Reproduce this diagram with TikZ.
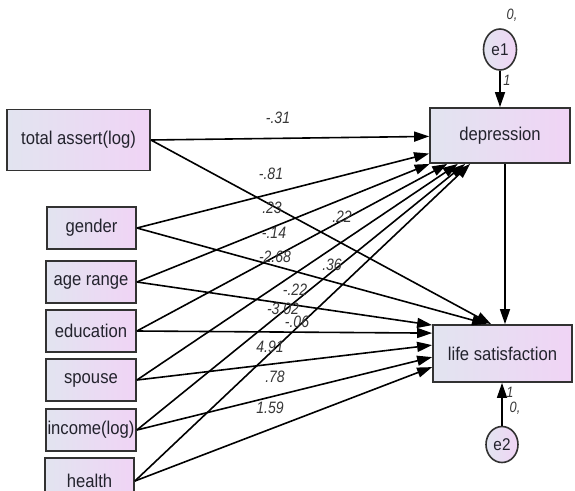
\documentclass[tikz,border=0pt]{standalone}
\usepackage{fontspec}
\setmainfont{Liberation Sans}
\newfontfamily\boxfont[FakeStretch=0.9]{Liberation Sans}
\newfontfamily\coeffont[FakeStretch=0.85]{Liberation Sans}
\usetikzlibrary{arrows.meta,calc,shapes.geometric}
\definecolor{boxL}{RGB}{226,228,240}
\definecolor{boxR}{RGB}{240,212,245}
\definecolor{boxtext}{RGB}{35,35,45}
\definecolor{coeftext}{RGB}{55,55,55}
\definecolor{edge}{RGB}{50,50,50}
\begin{document}
\begin{tikzpicture}[x=1pt,y=-1pt,
  var/.style={rectangle, draw=edge, line width=1.8pt, left color=boxL, right color=boxR,
    font=\boxfont\fontsize{18.5}{18.5}\selectfont, text=boxtext, inner sep=0pt},
  errv/.style={ellipse, draw=edge, line width=1.6pt, left color=boxL, right color=boxR,
    font=\boxfont\fontsize{17}{17}\selectfont, text=boxtext, inner sep=0pt},
  reg/.style={line width=1.6pt, -{Triangle[length=15pt,width=10pt]}},
  coef/.style={font=\coeffont\itshape\fontsize{16.5}{16.5}\selectfont, text=coeftext, inner sep=0pt},
  small/.style={font=\coeffont\itshape\fontsize{15}{15}\selectfont, text=coeftext, inner sep=0pt}]
\useasboundingbox (0,0) rectangle (575,490);

% observed variables
\node[var, minimum width=143pt, minimum height=61pt] (ta) at (78.5,140) {total assert(log)};
\node[var, minimum width=89pt, minimum height=42pt] (gender) at (91.5,228) {gender};
\node[var, minimum width=90pt, minimum height=42pt] (age) at (91,282) {age range};
\node[var, minimum width=90pt, minimum height=42pt] (edu) at (91,331) {education};
\node[var, minimum width=90pt, minimum height=42pt] (spouse) at (91,380) {spouse};
\node[var, minimum width=90pt, minimum height=42pt] (income) at (91,430) {income(log)};
\node[var, minimum width=89pt, minimum height=46pt] (health) at (89.5,481) {health};

\node[var, minimum width=140pt, minimum height=55pt] (dep) at (500,135.5) {depression};
\node[var, minimum width=139pt, minimum height=57pt] (ls) at (502.5,353.5) {life satisfaction};

% error terms
\node[errv, minimum width=33pt, minimum height=41pt] (e1) at (500,49.5) {e1};
\node[errv, minimum width=32pt, minimum height=36pt] (e2) at (502,444.5) {e2};

% arrows to depression
\draw[reg] (ta.east) -- (dep);
\draw[reg] (gender.east) -- (dep);
\draw[reg] (age.east) -- (dep);
\draw[reg] (edu.east) -- (dep);
\draw[reg] (spouse.east) -- (dep);
\draw[reg] (income.east) -- (dep);
\draw[reg] (health.east) -- (dep);

% arrows to life satisfaction
\coordinate (lsTA) at ($(ls.north west)+(59,0)$);
\coordinate (lsGE) at ($(ls.north west)+(55,0)$);
\coordinate (lsAG) at ($(ls.north west)+(0,1)$);
\coordinate (lsED) at ($(ls.north west)+(0,9)$);
\coordinate (lsSP) at ($(ls.north west)+(0,21)$);
\coordinate (lsIN) at ($(ls.north west)+(0,33)$);
\coordinate (lsHE) at ($(ls.north west)+(0,43)$);
\draw[reg] (ta.east) -- (lsTA);
\draw[reg] (gender.east) -- (lsGE);
\draw[reg] (age.east) -- (lsAG);
\draw[reg] (edu.east) -- (lsED);
\draw[reg] (spouse.east) -- (lsSP);
\draw[reg] (income.east) -- (lsIN);
\draw[reg] (health.east) -- (lsHE);

% depression -> life satisfaction
\draw[reg] ([xshift=5pt]dep.south) -- ([xshift=5pt]dep.south |- ls.north);

% error arrows
\draw[reg] (e1) -- (dep.north -| e1);
\draw[reg] (e2) -- (ls.south -| e2);

% coefficients
\node[coef] (c1) at (278,118) {-.31};
\node[coef] (c2) at (271,174) {-.81};
\node[coef] (c3) at (272,208) {.23};
\node[coef] (c4) at (274,233) {-.14};
\node[coef] (c5) at (275,257) {-2.68};
\node[coef] (c6) at (342,217) {.22};
\node[coef] (c7) at (332,265) {.36};
\node[coef] (c8) at (295,290) {-.22};
\node[coef] (c9) at (283,309) {-3.02};
\node[coef] (c10) at (297,322) {-.06};
\node[coef] (c11) at (270,347) {4.91};
\node[coef] (c12) at (275,377) {.78};
\node[coef] (c13) at (270,408) {1.59};

% error labels
\node[small] (e1v) at (512,15) {0,};
\node[small] (e1w) at (507,80) {1};
\node[small] (e2w) at (510,392) {1};
\node[small] (e2v) at (515,408) {0,};
\end{tikzpicture}
\end{document}
